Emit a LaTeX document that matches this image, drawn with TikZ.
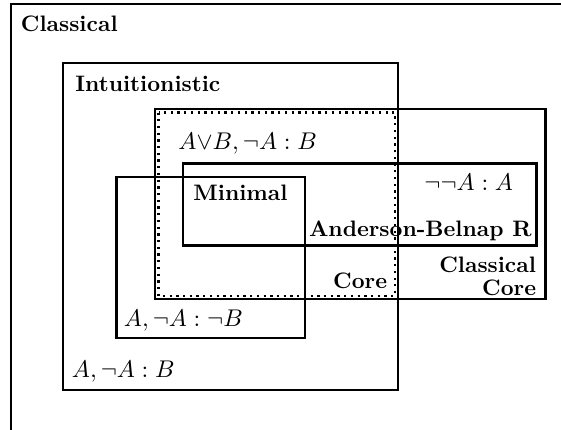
\RequirePackage{fix-cm}
\documentclass[tikz,border=0pt]{standalone}
\usetikzlibrary{positioning}

\begin{document}
\begin{tikzpicture}[x=0.447pt, y=-0.447pt,
  box/.style={draw,line width=1pt},
  corebox/.style={draw,line width=1pt,dotted},
  logic/.style={font=\bfseries,inner sep=0pt},
  rule/.style={font=\fontsize{10.8pt}{13pt}\selectfont,inner sep=0pt}]
  \useasboundingbox (0,0) rectangle (561,429);
  \clip (0,0) rectangle (561,429);
  % regions
  \draw[box] (11,4) rectangle (600,470);
  \draw[box] (63,63) rectangle (398,390);
  \draw[box] (155,109) rectangle (545.5,299);
  \draw[corebox] (158.5,112.5) rectangle (395,296);
  \draw[box] (183,163.5) rectangle (536.5,245.5);
  \draw[box] (116.5,177) rectangle (305,338);
  % names of the logics
  \node[logic,anchor=base west] (classical) at (20.5,31.7) {Classical};
  \node[logic,anchor=base west] (intuit) at (75,91) {Intuitionistic};
  \node[logic,anchor=base west] (minimal) at (193,200) {Minimal};
  \node[logic,anchor=base east] (relevant) at (532,236.7) {Anderson-Belnap R};
  \node[logic,anchor=base east] (core) at (387.5,288.3) {Core};
  \node[logic,anchor=base east] (ccore1) at (536.5,272.7) {Classical};
  \node[logic,anchor=base east] (ccore2) at (536.5,295) {Core};
  % sequents
  \node[rule,anchor=base west] (dsyll) at (178,149.3) {$A{\vee}B, \neg A : B$};
  \node[rule,anchor=base west] (dneg) at (424,190.7) {$\neg\neg A : A$};
  \node[rule,anchor=base west] (efqneg) at (123.5,326.7) {$A, \neg A : \neg B$};
  \node[rule,anchor=base west] (efq) at (71.5,377.7) {$A, \neg A : B$};
\end{tikzpicture}
\end{document}
